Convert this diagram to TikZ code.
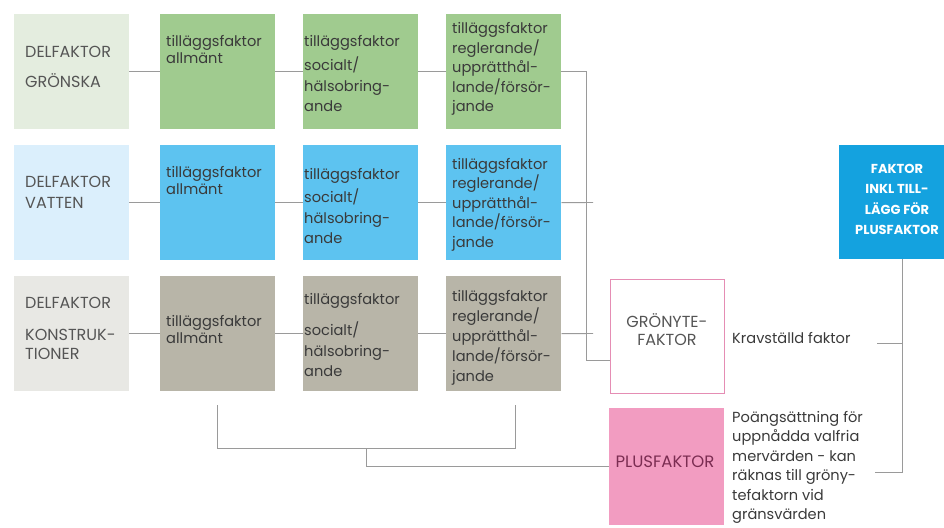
\documentclass[tikz,border=0pt]{standalone}
\usepackage{fontspec}
\setmainfont{Poppins}
\usetikzlibrary{calc}
\definecolor{gl}{HTML}{E4EDDF}
\definecolor{gm}{HTML}{A0CB8F}
\definecolor{bl}{HTML}{DBEFFC}
\definecolor{bm}{HTML}{5DC3F0}
\definecolor{tl}{HTML}{E8E8E4}
\definecolor{tm}{HTML}{B8B5A8}
\definecolor{fb}{HTML}{14A2DF}
\definecolor{pk}{HTML}{F29CC1}
\definecolor{pkb}{HTML}{E58DB4}
\definecolor{pkt}{HTML}{7B2D52}
\definecolor{ln}{HTML}{9A9A9A}
\definecolor{tx}{HTML}{3A3A3A}
\definecolor{txl}{HTML}{555555}
\newcommand\tblk[2]{\vtop{\baselineskip=#1\lineskip=0pt\lineskiplimit=-100pt\relax #2}}
\newcommand\cl[1]{\hbox to 0pt{\hss #1\hss}}
\tikzset{
  box/.style={anchor=north west, minimum width=115pt, minimum height=115pt, inner sep=0pt, draw=none},
  txt/.style={anchor=base west, inner sep=0pt, text=tx, font=\fontsize{14.6}{16}\selectfont},
  captxt/.style={txt, text=txl, font=\fontsize{16}{18}\selectfont},
  conn/.style={draw=ln, line width=0.9pt},
}
\begin{document}
\begin{tikzpicture}[x=1pt,y=-1pt]
\useasboundingbox (0,0) rectangle (944,527);
% row 1
\node[box, fill=gl] (a1) at (14,14) {};
\node[box, fill=gm] (a2) at (160,14) {};
\node[box, fill=gm] (a3) at (303,14) {};
\node[box, fill=gm] (a4) at (446,14) {};
% row 2
\node[box, fill=bl] (b1) at (14,145) {};
\node[box, fill=bm] (b2) at (160,145) {};
\node[box, fill=bm] (b3) at (303,145) {};
\node[box, fill=bm] (b4) at (446,145) {};
% row 3
\node[box, fill=tl] (c1) at (14,276) {};
\node[box, fill=tm] (c2) at (160,276) {};
\node[box, fill=tm] (c3) at (303,276) {};
\node[box, fill=tm] (c4) at (446,276) {};
% right boxes
\node[box, draw=pkb, line width=1.3pt, fill=white, minimum width=114pt, minimum height=114pt] (g) at (610,279) {};
\node[box, fill=pk, minimum height=117pt] (p) at (609,408) {};
\node[box, fill=fb, minimum width=116pt, minimum height=114pt] (f) at (839,145) {};

% texts row 1
\node[captxt] (ta1) at (25,57) {\tblk{30pt}{\hbox{DELFAKTOR}\hbox{GRÖNSKA}}};
\node[txt] (ta2) at (166,47) {\tblk{17pt}{\hbox{tilläggsfaktor}\hbox{allmänt}}};
\node[txt] (ta3) at (304,47) {\tblk{20.5pt}{\hbox{tilläggsfaktor}\vskip3.5pt\hbox{socialt/}\hbox{hälsobring-}\hbox{ande}}};
\node[txt] (ta4) at (452,34) {\tblk{19.5pt}{\hbox{tilläggsfaktor}\hbox{reglerande/}\hbox{upprätthål-}\hbox{lande/försör-}\hbox{jande}}};
% texts row 2
\node[captxt] (tb1) at (25,187) {\tblk{21pt}{\hbox{DELFAKTOR}\hbox{VATTEN}}};
\node[txt] (tb2) at (166,177) {\tblk{17pt}{\hbox{tilläggsfaktor}\hbox{allmänt}}};
\node[txt] (tb3) at (304,179) {\tblk{20.5pt}{\hbox{tilläggsfaktor}\vskip3pt\hbox{socialt/}\hbox{hälsobring-}\hbox{ande}}};
\node[txt] (tb4) at (452,169) {\tblk{19.5pt}{\hbox{tilläggsfaktor}\hbox{reglerande/}\hbox{upprätthål-}\hbox{lande/försör-}\hbox{jande}}};
% texts row 3
\node[captxt] (tc1) at (25,308) {\tblk{19pt}{\hbox{DELFAKTOR}\vskip13pt\hbox{KONSTRUK-}\hbox{TIONER}}};
\node[txt] (tc2) at (166,326) {\tblk{17pt}{\hbox{tilläggsfaktor}\hbox{allmänt}}};
\node[txt] (tc3) at (304,304) {\tblk{20.5pt}{\hbox{tilläggsfaktor}\vskip11pt\hbox{socialt/}\hbox{hälsobring-}\hbox{ande}}};
\node[txt] (tc4) at (452,301) {\tblk{20pt}{\hbox{tilläggsfaktor}\hbox{reglerande/}\hbox{upprätthål-}\hbox{lande/försör-}\hbox{jande}}};
% right texts
\node[captxt, anchor=base] (tg) at (667,327) {\tblk{18pt}{\cl{GRÖNYTE-}\cl{FAKTOR}}};
\node[txt] (tk) at (732,343) {Kravställd faktor};
\node[captxt, anchor=base, text=pkt, font=\fontsize{16.5}{18}\selectfont] (tp) at (665,467) {PLUSFAKTOR};
\node[txt] (td) at (732,422) {\tblk{19.5pt}{\hbox{Poängsättning för}\hbox{uppnådda valfria}\hbox{mervärden - kan}\hbox{räknas till gröny-}\hbox{tefaktorn vid}\hbox{gränsvärden}}};
\node[txt, anchor=base, text=white, font=\fontsize{13}{14}\selectfont\bfseries] (tf) at (897,173) {\tblk{20.5pt}{\cl{FAKTOR}\cl{INKL TILL-}\cl{LÄGG FÖR}\cl{PLUSFAKTOR}}};

% connectors
\draw[conn] (a1.east) -- (a2.west);
\draw[conn] (a2.east) -- (a3.west);
\draw[conn] (a3.east) -- (a4.west);
\draw[conn] (b1.east) -- (b2.west);
\draw[conn] (b2.east) -- (b3.west);
\draw[conn] (b3.east) -- (b4.west);
\draw[conn] (c1.east) -- (c2.west);
\draw[conn] (c2.east) -- (c3.west);
\draw[conn] (c3.east) -- (c4.west);
\coordinate (j1) at (586,360);
\coordinate (e2) at (593,202.5);
\coordinate (e3) at (593,333.5);
\draw[conn] (a4.east) -| (j1) -- (j1 -| g.west);
\draw[conn] (b4.east) -- (e2);
\draw[conn] (c4.east) -- (e3);
% bottom bracket
\coordinate (bl0) at ($(c2.south)+(0,14)$);
\coordinate (br0) at (515,405);
\coordinate (bm) at (366.5,448);
\draw[conn] (bl0) -- (bl0 |- bm) -- (br0 |- bm) -- (br0);
\draw[conn] (bm) -- (366.5,466.5) -- (366.5,466.5 -| p.west);
% right side
\coordinate (v) at (902,259);
\coordinate (k1) at (877,343);
\coordinate (k2) at (875,472);
\draw[conn] (v |- f.south) -- (v |- k2) -- (k2);
\draw[conn] (k1) -- (k1 -| v);
\end{tikzpicture}
\end{document}
